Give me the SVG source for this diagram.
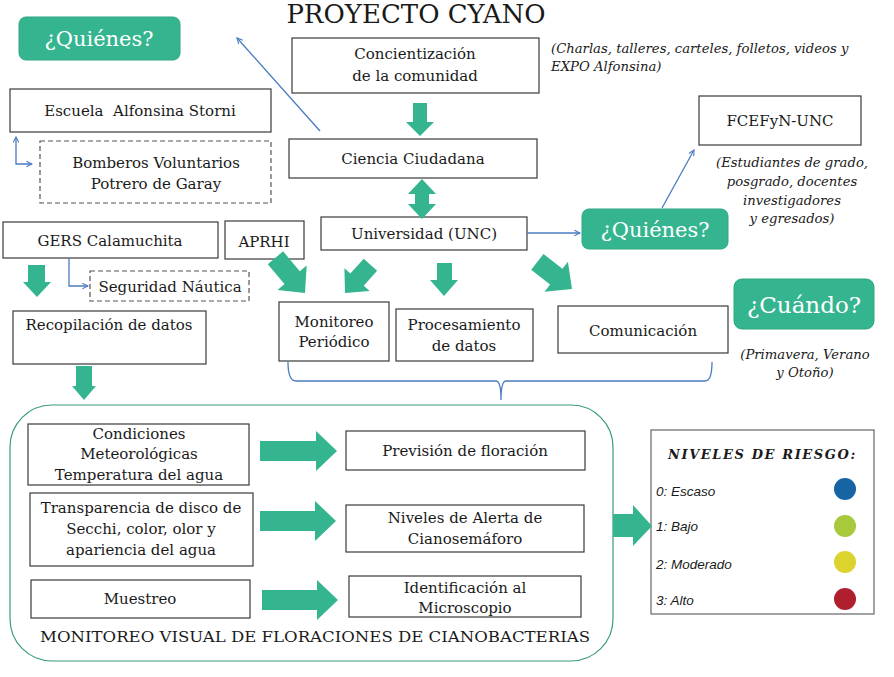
<svg xmlns="http://www.w3.org/2000/svg" width="894" height="677" viewBox="0 0 894 677">
<style>
.t{font-family:"DejaVu Serif","Liberation Serif",serif;font-size:15px;fill:#1a1a1a;text-anchor:middle}
.n{font-family:"DejaVu Serif","Liberation Serif",serif;font-size:13.2px;font-style:italic;fill:#1a1a1a}
.b{fill:#fff;stroke:#3a3a3a;stroke-width:1.2}
.d{fill:#fff;stroke:#555;stroke-width:1.2;stroke-dasharray:5 3}
.q{fill:#35b58f;stroke:#2fa883;stroke-width:1}
.qt{font-family:"DejaVu Serif","Liberation Serif",serif;font-size:21px;fill:#fff;text-anchor:middle}
.g{fill:#35b58f}
.bl{fill:none;stroke:#4a7cc0;stroke-width:1.3}
.r{font-family:"Liberation Sans",Arial,sans-serif;font-size:13.5px;font-style:italic;fill:#1a1a1a}
</style>
<defs>
<marker id="ah" viewBox="0 0 10 10" refX="9" refY="5" markerWidth="7" markerHeight="7" orient="auto-start-reverse" markerUnits="userSpaceOnUse">
<path d="M1,1 L9,5 L1,9" fill="none" stroke="#4a7cc0" stroke-width="1.5"/>
</marker>
</defs>
<rect width="894" height="677" fill="#fff"/>
<text x="416" y="23" class="t" style="font-size:26px">PROYECTO CYANO</text>

<g id="quienes1"><rect x="19" y="17" width="161" height="43" rx="7" class="q"/><text x="99" y="46" class="qt">¿Quiénes?</text></g>
<g id="concientizacion"><rect x="292" y="38" width="247" height="55" class="b"/><text x="415" y="59" class="t">Concientización</text><text x="415" y="81" class="t">de la comunidad</text></g>
<g id="nota1"><text x="551" y="53" class="n">(Charlas, talleres, carteles, folletos, videos y</text><text x="551" y="71" class="n">EXPO Alfonsina)</text></g>
<g id="ciencia"><rect x="289" y="139" width="248" height="39" class="b"/><text x="413" y="164" class="t">Ciencia Ciudadana</text></g>
<g id="universidad"><rect x="321" y="217" width="206" height="33" class="b"/><text x="424" y="239" class="t">Universidad (UNC)</text></g>
<g id="quienes2"><rect x="582" y="209" width="146" height="40" rx="7" class="q"/><text x="655" y="237" class="qt">¿Quiénes?</text></g>
<g id="fcefyn"><rect x="699" y="96" width="162" height="49" class="b"/><text x="780" y="126" class="t">FCEFyN-UNC</text></g>
<g id="nota2"><text x="792" y="167" class="n" text-anchor="middle">(Estudiantes de grado,</text><text x="792" y="186" class="n" text-anchor="middle">posgrado, docentes</text><text x="792" y="205" class="n" text-anchor="middle">investigadores</text><text x="792" y="223" class="n" text-anchor="middle">y egresados)</text></g>
<g id="cuando"><rect x="734" y="279" width="140" height="50" rx="8" class="q"/><text x="804" y="313" class="qt" style="font-size:23px">¿Cuándo?</text></g>
<g id="nota3"><text x="805" y="359" class="n" text-anchor="middle">(Primavera, Verano</text><text x="805" y="377" class="n" text-anchor="middle">y Otoño)</text></g>
<g id="escuela"><rect x="10" y="89" width="261" height="43" class="b"/><text x="140" y="116" class="t" xml:space="preserve" style="white-space:pre">Escuela  Alfonsina Storni</text></g>
<g id="bomberos"><rect x="40" y="141" width="231" height="62" class="d"/><text x="156" y="168" class="t">Bomberos Voluntarios</text><text x="156" y="189" class="t">Potrero de Garay</text></g>
<g id="gers"><rect x="3" y="222" width="215" height="36" class="b"/><text x="110" y="246" class="t">GERS Calamuchita</text></g>
<g id="aprhi"><rect x="225" y="221" width="79" height="38" class="b"/><text x="264" y="247" class="t">APRHI</text></g>
<g id="seguridad"><rect x="90" y="271" width="159" height="30" class="d"/><text x="170" y="292" class="t">Seguridad Náutica</text></g>
<g id="recopilacion"><rect x="13" y="311" width="193" height="53" class="b"/><text x="109" y="330" class="t">Recopilación de datos</text></g>
<g id="monitoreo"><rect x="279" y="302" width="110" height="59" class="b"/><text x="334" y="327" class="t">Monitoreo</text><text x="334" y="347" class="t">Periódico</text></g>
<g id="procesamiento"><rect x="396" y="309" width="137" height="52" class="b"/><text x="464" y="330" class="t">Procesamiento</text><text x="464" y="351" class="t">de datos</text></g>
<g id="comunicacion"><rect x="558" y="306" width="170" height="47" class="b"/><text x="643" y="336" class="t">Comunicación</text></g>

<g id="monitoreo-visual">
<rect x="10" y="405" width="603" height="256" rx="42" fill="none" stroke="#3a9a7c" stroke-width="1.2"/>
<text x="315" y="642" class="t" textLength="550" lengthAdjust="spacingAndGlyphs">MONITOREO VISUAL DE FLORACIONES DE CIANOBACTERIAS</text>
</g>
<g id="condiciones"><rect x="28" y="424" width="221" height="61" class="b"/><text x="139" y="439" class="t">Condiciones</text><text x="139" y="459" class="t">Meteorológicas</text><text x="139" y="480" class="t">Temperatura del agua</text></g>
<g id="transparencia"><rect x="30" y="493" width="223" height="73" class="b"/><text x="141" y="513" class="t">Transparencia de disco de</text><text x="141" y="534" class="t">Secchi, color, olor y</text><text x="141" y="555" class="t">apariencia del agua</text></g>
<g id="muestreo"><rect x="31" y="580" width="219" height="38" class="b"/><text x="140" y="604" class="t">Muestreo</text></g>
<g id="prevision"><rect x="346" y="431" width="239" height="39" class="b"/><text x="465" y="456" class="t">Previsión de floración</text></g>
<g id="niveles-alerta"><rect x="346" y="505" width="238" height="47" class="b"/><text x="465" y="523" class="t">Niveles de Alerta de</text><text x="465" y="544" class="t">Cianosemáforo</text></g>
<g id="identificacion"><rect x="349" y="576" width="232" height="41" class="b"/><text x="465" y="593" class="t">Identificación al</text><text x="465" y="613" class="t">Microscopio</text></g>

<g id="niveles-riesgo">
<rect x="651" y="430" width="223" height="184" fill="#fff" stroke="#666" stroke-width="1.2"/>
<text x="668" y="459" style="font-family:'DejaVu Serif','Liberation Serif',serif;font-size:13px;font-style:italic;font-weight:bold;letter-spacing:1.6px" fill="#1a1a1a">NIVELES DE RIESGO:</text>
<text x="656" y="496" class="r">0: Escaso</text>
<text x="656" y="531" class="r">1: Bajo</text>
<text x="656" y="569" class="r">2: Moderado</text>
<text x="656" y="605" class="r">3: Alto</text>
<circle cx="845" cy="489" r="11" fill="#1764a5"/>
<circle cx="845" cy="526" r="11" fill="#a8c93b"/>
<circle cx="845" cy="562" r="11" fill="#dcd42e"/>
<circle cx="845" cy="599" r="11" fill="#b01f2e"/>
</g>

<g id="connectors">
<line x1="320" y1="131" x2="237" y2="38" class="bl" marker-end="url(#ah)"/>
<line x1="527" y1="233" x2="580" y2="233" class="bl" marker-end="url(#ah)"/>
<line x1="662" y1="208" x2="694" y2="150" class="bl" marker-end="url(#ah)"/>
<polyline points="16,137 16,164 32,164" class="bl" marker-start="url(#ah)" marker-end="url(#ah)"/>
<polyline points="69,258 69,286 88,286" class="bl" marker-end="url(#ah)"/>
<path d="M288,362 Q288,381 296,381 L496,381 Q501,381 501,400 Q501,381 506,381 L705,381 Q712,381 712,362" class="bl"/>
<polygon class="g" points="413,103 427,103 427,122 434,122 420,136 406,122 413,122"/>
<polygon class="g" points="422,179 436,194 429,194 429,204 436,204 422,219 408,204 415,204 415,194 408,194"/>
<polygon class="g" points="28,265 45,265 45,282 51,282 37,297 23,282 28,282"/>
<polygon class="g" points="76,366 92,366 92,386 96,386 84,400 72,386 76,386"/>
<g transform="translate(305,293) rotate(-40)"><polygon class="g" points="-10,-46 10,-46 10,-20 19,-20 0,0 -19,-20 -10,-20"/></g>
<g transform="translate(345,293) rotate(42)"><polygon class="g" points="-9,-38 9,-38 9,-18 17,-18 0,0 -17,-18 -9,-18"/></g>
<polygon class="g" points="437,263 452,263 452,280 458,280 444,296 430,280 437,280"/>
<g transform="translate(572,289) rotate(-52)"><polygon class="g" points="-10,-44 10,-44 10,-20 19,-20 0,0 -19,-20 -10,-20"/></g>
<polygon class="g" points="260,441 316,441 316,431 337,451 316,471 316,461 260,461"/>
<polygon class="g" points="260,511 315,511 315,501 336,521 315,541 315,531 260,531"/>
<polygon class="g" points="262,590 317,590 317,580 338,600 317,620 317,610 262,610"/>
<polygon class="g" points="613,514 633,514 633,505 652,526 633,546 633,537 613,537"/>
</g>
</svg>
